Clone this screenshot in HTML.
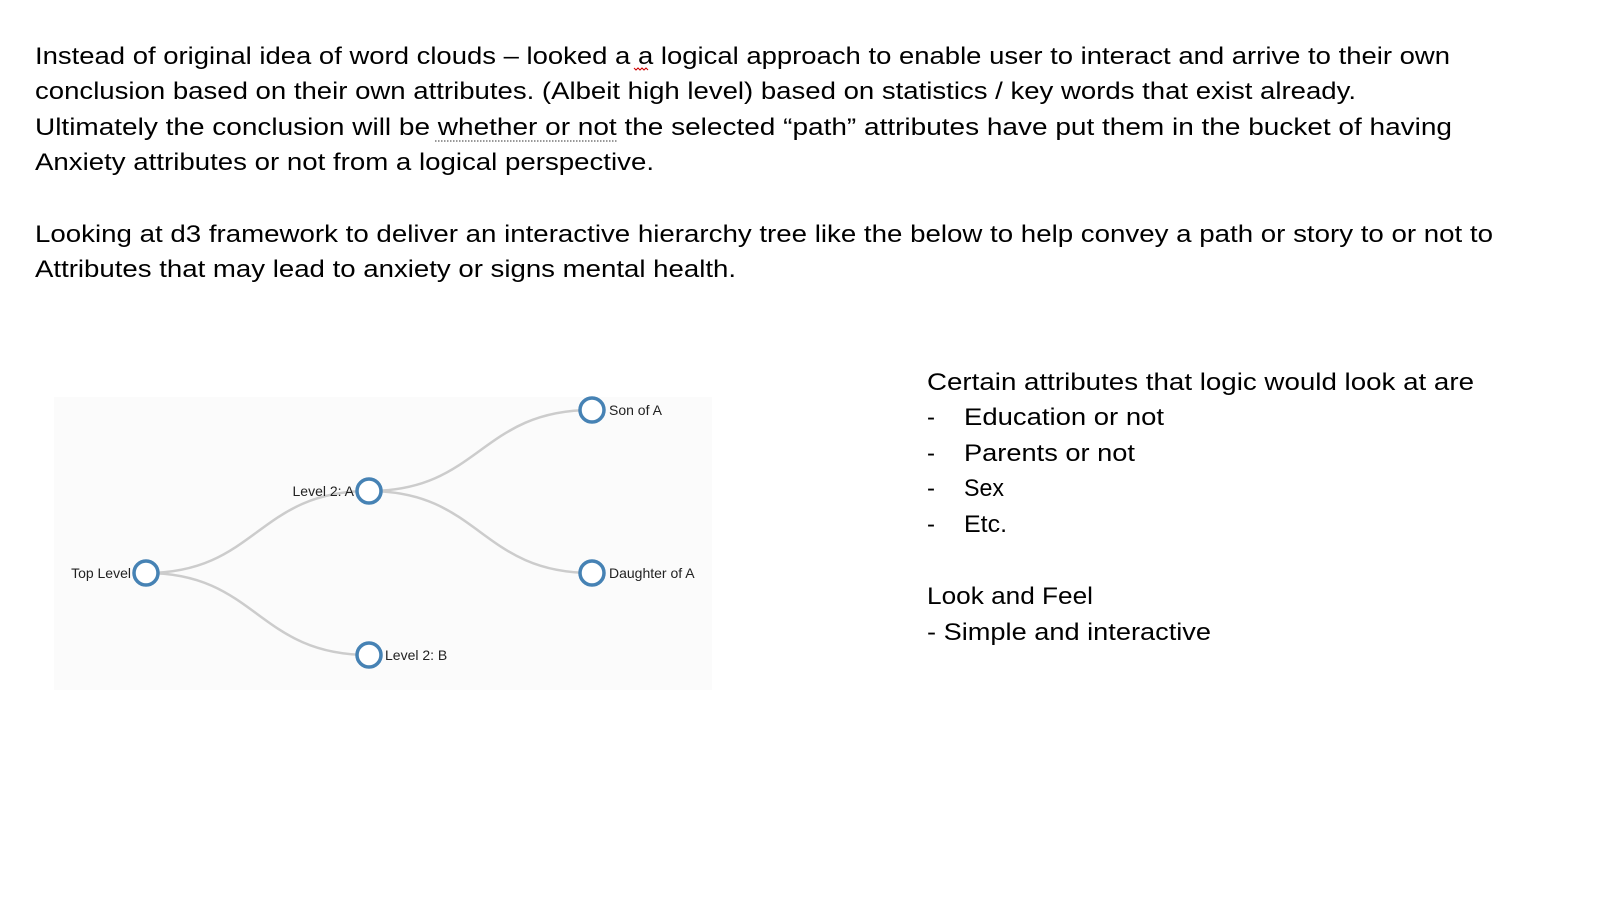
<!DOCTYPE html>
<html><head><meta charset="utf-8"><style>
html,body{margin:0;padding:0;background:#fff;}
svg{display:block;}
.t{font-family:"Liberation Sans",sans-serif;font-size:24px;fill:#000;}
.s{font-family:"Liberation Sans",sans-serif;font-size:14px;fill:#222;}
</style></head><body>
<svg width="1606" height="898" viewBox="0 0 1606 898" xmlns="http://www.w3.org/2000/svg">
<rect width="1606" height="898" fill="#fff"/>
<text class="t" x="35" y="64" textLength="1415" lengthAdjust="spacingAndGlyphs">Instead of original idea of word clouds – looked a a logical approach to enable user to interact and arrive to their own</text>
<text class="t" x="35" y="99" textLength="1321" lengthAdjust="spacingAndGlyphs">conclusion based on their own attributes.  (Albeit high level) based on statistics / key words that exist already.</text>
<text class="t" x="35" y="135" textLength="1417" lengthAdjust="spacingAndGlyphs">Ultimately the conclusion will be whether or not the selected “path” attributes have put them in the bucket of having</text>
<text class="t" x="35" y="170" textLength="619" lengthAdjust="spacingAndGlyphs">Anxiety attributes or not from a logical perspective.</text>
<text class="t" x="35" y="242" textLength="1458" lengthAdjust="spacingAndGlyphs">Looking at d3 framework to deliver an interactive hierarchy tree like the below to help convey a path or story to or not to</text>
<text class="t" x="35" y="277" textLength="701" lengthAdjust="spacingAndGlyphs">Attributes that may lead to anxiety or signs mental health.</text>
<line x1="435" y1="141" x2="618" y2="141" stroke="#777" stroke-width="1.5" stroke-dasharray="1.5,1.5"/>
<path d="M634 68 l2 2 l2-2 l2 2 l2-2 l2 2 l2-2 l2 2" stroke="#c00" fill="none" stroke-width="1"/>

<text class="t" x="927" y="390" textLength="547" lengthAdjust="spacingAndGlyphs">Certain attributes that logic would look at are</text>
<text class="t" x="927" y="425">-</text><text class="t" x="964" y="425" textLength="200" lengthAdjust="spacingAndGlyphs">Education or not</text>
<text class="t" x="927" y="461">-</text><text class="t" x="964" y="461" textLength="171" lengthAdjust="spacingAndGlyphs">Parents or not</text>
<text class="t" x="927" y="496">-</text><text class="t" x="964" y="496" textLength="40" lengthAdjust="spacingAndGlyphs">Sex</text>
<text class="t" x="927" y="532">-</text><text class="t" x="964" y="532" textLength="43" lengthAdjust="spacingAndGlyphs">Etc.</text>
<text class="t" x="927" y="604" textLength="166" lengthAdjust="spacingAndGlyphs">Look and Feel</text>
<text class="t" x="927" y="640" textLength="284" lengthAdjust="spacingAndGlyphs">- Simple and interactive</text>

<rect x="54" y="397" width="658" height="293" fill="#fbfbfb"/>
<g fill="none" stroke="#ccc" stroke-width="2.5">
<path d="M146 573 C257 573 257 491 369 491"/>
<path d="M146 573 C257 573 257 655 369 655"/>
<path d="M369 491 C480 491 480 410 592 410"/>
<path d="M369 491 C480 491 480 573 592 573"/>
</g>
<g fill="#fff" stroke="#4682b4" stroke-width="3.5">
<circle cx="146" cy="573" r="12"/>
<circle cx="369" cy="491" r="12"/>
<circle cx="369" cy="655" r="12"/>
<circle cx="592" cy="410" r="12"/>
<circle cx="592" cy="573" r="12"/>
</g>
<text class="s" x="131" y="578" text-anchor="end">Top Level</text>
<text class="s" x="354" y="496" text-anchor="end">Level 2: A</text>
<text class="s" x="385" y="660">Level 2: B</text>
<text class="s" x="609" y="415">Son of A</text>
<text class="s" x="609" y="578">Daughter of A</text>
</svg>
</body></html>
